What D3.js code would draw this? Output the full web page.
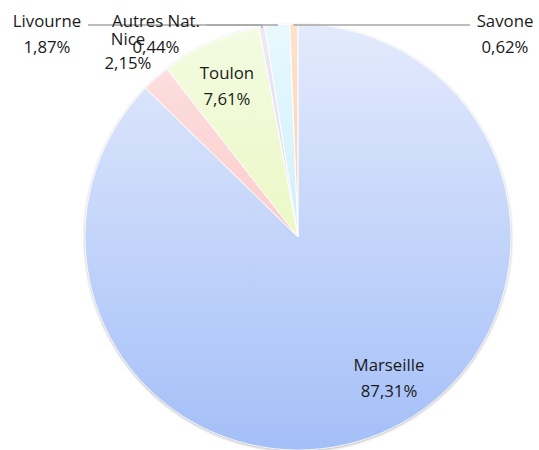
<!DOCTYPE html>
<html>
<head>
<meta charset="utf-8">
<script src="https://cdn.jsdelivr.net/npm/d3@7"></script>
<style>
  body { margin: 0; background: #fff; }
  text { font-family: "Open Sans", Lato, sans-serif; font-size: 16.8px; fill: #1a1a1a; }
</style>
</head>
<body>
<svg id="chart" width="539" height="450"></svg>
<script>
// ports, clockwise from 12 o'clock
const ports = ["Marseille", "Nice", "Toulon", "Autres Nat.", "Livourne", "Savone"]
const shares = [87.31, 2.15, 7.61, 0.44, 1.87, 0.62]
const shareLabels = ["87,31%", "2,15%", "7,61%", "0,44%", "1,87%", "0,62%"]

const topColors = ["#e3eafc", "#fde2e2", "#f4fbe2", "#eee8f6", "#e8f8fd", "#fde2cc"]
const bottomColors = ["#a4bff8", "#fbb8b8", "#e1f5a8", "#d3c7e8", "#b8e8fa", "#f8c096"]

const cx = 298, cy = 237, r = 213
const svg = d3.select("#chart")
const defs = svg.append("defs")

const f = defs.append("filter").attr("id", "shadow")
    .attr("x", "-10%").attr("y", "-10%").attr("width", "120%").attr("height", "120%")
f.append("feDropShadow").attr("dx", 0).attr("dy", 1).attr("stdDeviation", 1.6)
    .attr("flood-color", "#000").attr("flood-opacity", 0.35)

ports.forEach((p, i) => {
    const g = defs.append("linearGradient").attr("id", "grad" + i)
        .attr("gradientUnits", "userSpaceOnUse")
        .attr("x1", 0).attr("y1", -r).attr("x2", 0).attr("y2", r)
    g.append("stop").attr("offset", "0%").attr("stop-color", topColors[i])
    g.append("stop").attr("offset", "100%").attr("stop-color", bottomColors[i])
})

const pie = d3.pie().sort(null).value(d => d)
const arcs = pie(shares)
const arc = d3.arc().innerRadius(0).outerRadius(r)

const pg = svg.append("g").attr("transform", `translate(${cx},${cy})`)
pg.append("g").attr("filter", "url(#shadow)")
    .selectAll("path")
    .data(arcs)
    .join("path")
    .attr("d", arc)
    .attr("fill", (d, i) => `url(#grad${i})`)
pg.selectAll("path.sep")
    .data(arcs)
    .join("path")
    .attr("class", "sep")
    .attr("d", arc)
    .attr("fill", "none")
    .attr("stroke", "#fff")
    .attr("stroke-width", 0.8)

// label layout (baseline of first line)
const labelPos = [[389, 371], [128, 45], [227, 79], [156, 27], [47, 27], [505, 27]]

// leader lines for the outside labels
const outer = d3.arc().innerRadius(r).outerRadius(r)
const leaders = [
    [3, 206],
    [4, 88],
    [5, 470]
]
leaders.forEach(([i, x0]) => {
    const c = outer.centroid(arcs[i])
    svg.append("polyline")
        .attr("points", `${x0},25 ${cx + c[0]},25 ${cx + c[0]},${cy + c[1] + 1}`)
        .attr("fill", "none")
        .attr("stroke", "#a6a6a6")
        .attr("stroke-width", 1.3)
})

ports.forEach((p, i) => {
    const t = svg.append("text").attr("text-anchor", "middle")
        .attr("x", labelPos[i][0]).attr("y", labelPos[i][1])
    t.append("tspan").attr("x", labelPos[i][0]).attr("dy", 0).text(p)
    t.append("tspan").attr("x", labelPos[i][0]).attr("dy", i === 1 ? 24 : 25.5).text(shareLabels[i])
})
</script>
</body>
</html>
